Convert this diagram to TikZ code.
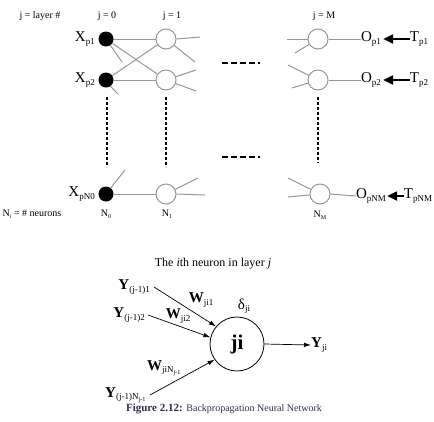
\documentclass[tikz,border=0pt]{standalone}
\usepackage{fontspec}
\setmainfont{Liberation Serif}
\usetikzlibrary{arrows.meta}
\definecolor{capcol}{RGB}{45,45,75}
\definecolor{linkgray}{RGB}{150,150,150}
\newcommand{\sbs}[1]{\raisebox{-0.35ex}{\scalebox{0.6}{#1}}}
\begin{document}
\begin{tikzpicture}[x=1pt,y=-1pt,
 dot/.style={circle,fill=black,inner sep=0,minimum size=15pt},
 neur/.style={circle,draw=linkgray,line width=1pt,inner sep=0,minimum size=20pt},
 link/.style={draw=linkgray,line width=1pt},
 vdots/.style={line width=2.5pt,dash pattern=on 3pt off 2pt},
 hdots/.style={line width=2pt,dash pattern=on 6pt off 3pt},
 lab/.style={inner sep=0,font=\fontsize{15}{17}\selectfont},
 tiny/.style={inner sep=0,font=\fontsize{10}{12}\selectfont},
 tarrow/.style={-{Triangle[length=10pt,width=9pt]},line width=2pt},
 warrow/.style={-{Latex[length=7pt,width=4.5pt]},line width=0.7pt},
]
\useasboundingbox (0,0) rectangle (434,421);

% ---- header labels
\node[tiny] (hl) at (40,16) {j = layer \#};
\node[tiny] (h0) at (107,16) {j = 0};
\node[tiny] (h1) at (172,16) {j = 1};
\node[tiny] (hM) at (324,16) {j = M};

% ---- input layer
\node[dot] (a0) at (106,39) {};
\node[dot] (a1) at (106,80) {};
\node[dot] (a2) at (106,194) {};
\node[lab,anchor=east] (x0) at (95,39) {X\sbs{p1}};
\node[lab,anchor=east] (x1) at (95,80) {X\sbs{p2}};
\node[lab,anchor=east] (x2) at (95,194) {X\sbs{pN0}};

% ---- layer 1
\node[neur] (b0) at (166,39) {};
\node[neur] (b1) at (166,80) {};
\node[neur] (b2) at (166,194) {};

% ---- layer M
\node[neur] (c0) at (318,39) {};
\node[neur] (c1) at (318,80) {};
\node[neur] (c2) at (320,194) {};

% ---- connections
\draw[link] (a0) -- (b0);
\draw[link] (a0) -- (b1);
\draw[link] (a1) -- (b0);
\draw[link] (a1) -- (b1);
\draw[link] (a2) -- (b2);

% stubs
\coordinate (sa0) at (122,62);
\coordinate (sa1) at (118,94);
\coordinate (sa2) at (125,170);
\coordinate (sb0a) at (200,37);
\coordinate (sb0b) at (195,62);
\coordinate (sb1a) at (196,70);
\coordinate (sb1b) at (196,91);
\coordinate (sb2a) at (198,178);
\coordinate (sb2b) at (205,195);
\coordinate (sc0a) at (287,39);
\coordinate (sc0b) at (295,53);
\coordinate (sc1a) at (288,65);
\coordinate (sc1b) at (292,88);
\coordinate (sc2a) at (288,178);
\coordinate (sc2b) at (288,197);
\draw[link] (a0) -- (sa0);
\draw[link] (a1.-55) -- (sa1);
\draw[link] (a2) -- (sa2);
\draw[link] (b0.east) -- (sb0a);
\draw[link] (b0) -- (sb0b);
\draw[link] (b1) -- (sb1a);
\draw[link] (b1) -- (sb1b);
\draw[link] (b2) -- (sb2a);
\draw[link] (b2.east) -- (sb2b);
\draw[link] (c0.west) -- (sc0a);
\draw[link] (c0) -- (sc0b);
\draw[link] (c1) -- (sc1a);
\draw[link] (c1) -- (sc1b);
\draw[link] (c2) -- (sc2a);
\draw[link] (c2) -- (sc2b);

% ---- outputs and targets
\node[lab] (o0) at (371,39) {O\sbs{p1}};
\node[lab] (o1) at (371,80) {O\sbs{p2}};
\node[lab] (o2) at (371,196) {O\sbs{pNM}};
\node[lab] (t0) at (419,39) {T\sbs{p1}};
\node[lab] (t1) at (419,80) {T\sbs{p2}};
\node[lab] (t2) at (418,196) {T\sbs{pNM}};
\draw[link] (c0) -- (o0.west);
\draw[link] (c1) -- (o1.west);
\draw[link] (c2.east) -- (o2.west);
\draw[tarrow] (t0.west) -- ([xshift=2pt]o0.east);
\draw[tarrow] (t1.west) -- ([xshift=2pt]o1.east);
\draw[tarrow] (t2.west) -- ([xshift=1pt]o2.east);

% ---- ellipses
\coordinate (v0t) at (107,97); \coordinate (v0b) at (107,167);
\coordinate (v1t) at (166,97); \coordinate (v1b) at (166,167);
\coordinate (v2t) at (318,97); \coordinate (v2b) at (318,163);
\draw[vdots] (v0t) -- (v0b);
\draw[vdots] (v1t) -- (v1b);
\draw[vdots] (v2t) -- (v2b);
\coordinate (d0l) at (222,63); \coordinate (d0r) at (260,63);
\coordinate (d1l) at (222,157); \coordinate (d1r) at (260,157);
\draw[hdots] (d0l) -- (d0r);
\draw[hdots] (d1l) -- (d1r);

% ---- bottom labels
\node[tiny] (nl) at (32,214) {N\sbs{i} = \# neurons};
\node[tiny] (n0) at (106,214) {N\sbs{0}};
\node[tiny] (n1) at (167,214) {N\sbs{1}};
\node[tiny] (nM) at (320,215) {N\sbs{M}};

% ---- single neuron detail
\node[inner sep=0,font=\fontsize{12}{14}\selectfont] (title) at (213,264) {The \textit{i}th neuron in layer \textit{j}};
\node[circle,draw,line width=0.8pt,minimum size=54pt,inner sep=0,font=\fontsize{21}{24}\selectfont\bfseries] (ji) at (237,344) {ji};
\node[lab,anchor=east] (y1) at (150,287) {\textbf{Y}\sbs{(j-1)1}};
\node[lab,anchor=east] (y2) at (145,315) {\textbf{Y}\sbs{(j-1)2}};
\node[lab,anchor=east] (yN) at (146,395) {\textbf{Y}\sbs{(j-1)N\textsubscript{j-1}}};
\draw[warrow] ([xshift=4pt]y1.east) -- (ji.140);
\draw[warrow] ([xshift=3pt]y2.east) -- (ji.166);
\draw[warrow] ([xshift=4pt]yN.east) -- (ji.215);
\node[lab] (w1) at (201,300) {\textbf{W}\sbs{ji1}};
\node[lab] (w2) at (178,316) {\textbf{W}\sbs{ji2}};
\node[lab] (wN) at (164,368) {\textbf{W}\sbs{jiN\textsubscript{j-1}}};
\node[lab] (delta) at (244,306) {δ\sbs{ji}};
\node[lab,anchor=west] (yo) at (311,345) {\textbf{Y}\sbs{ji}};
\draw[warrow] (ji.east) -- (yo.west);

% ---- caption
\node[inner sep=0,text=capcol,font=\fontsize{11}{13}\selectfont] (cap) at (224,409) {\textbf{Figure 2.12:} {\fontsize{10}{12}\selectfont Backpropagation Neural Network}};
\end{tikzpicture}
\end{document}
